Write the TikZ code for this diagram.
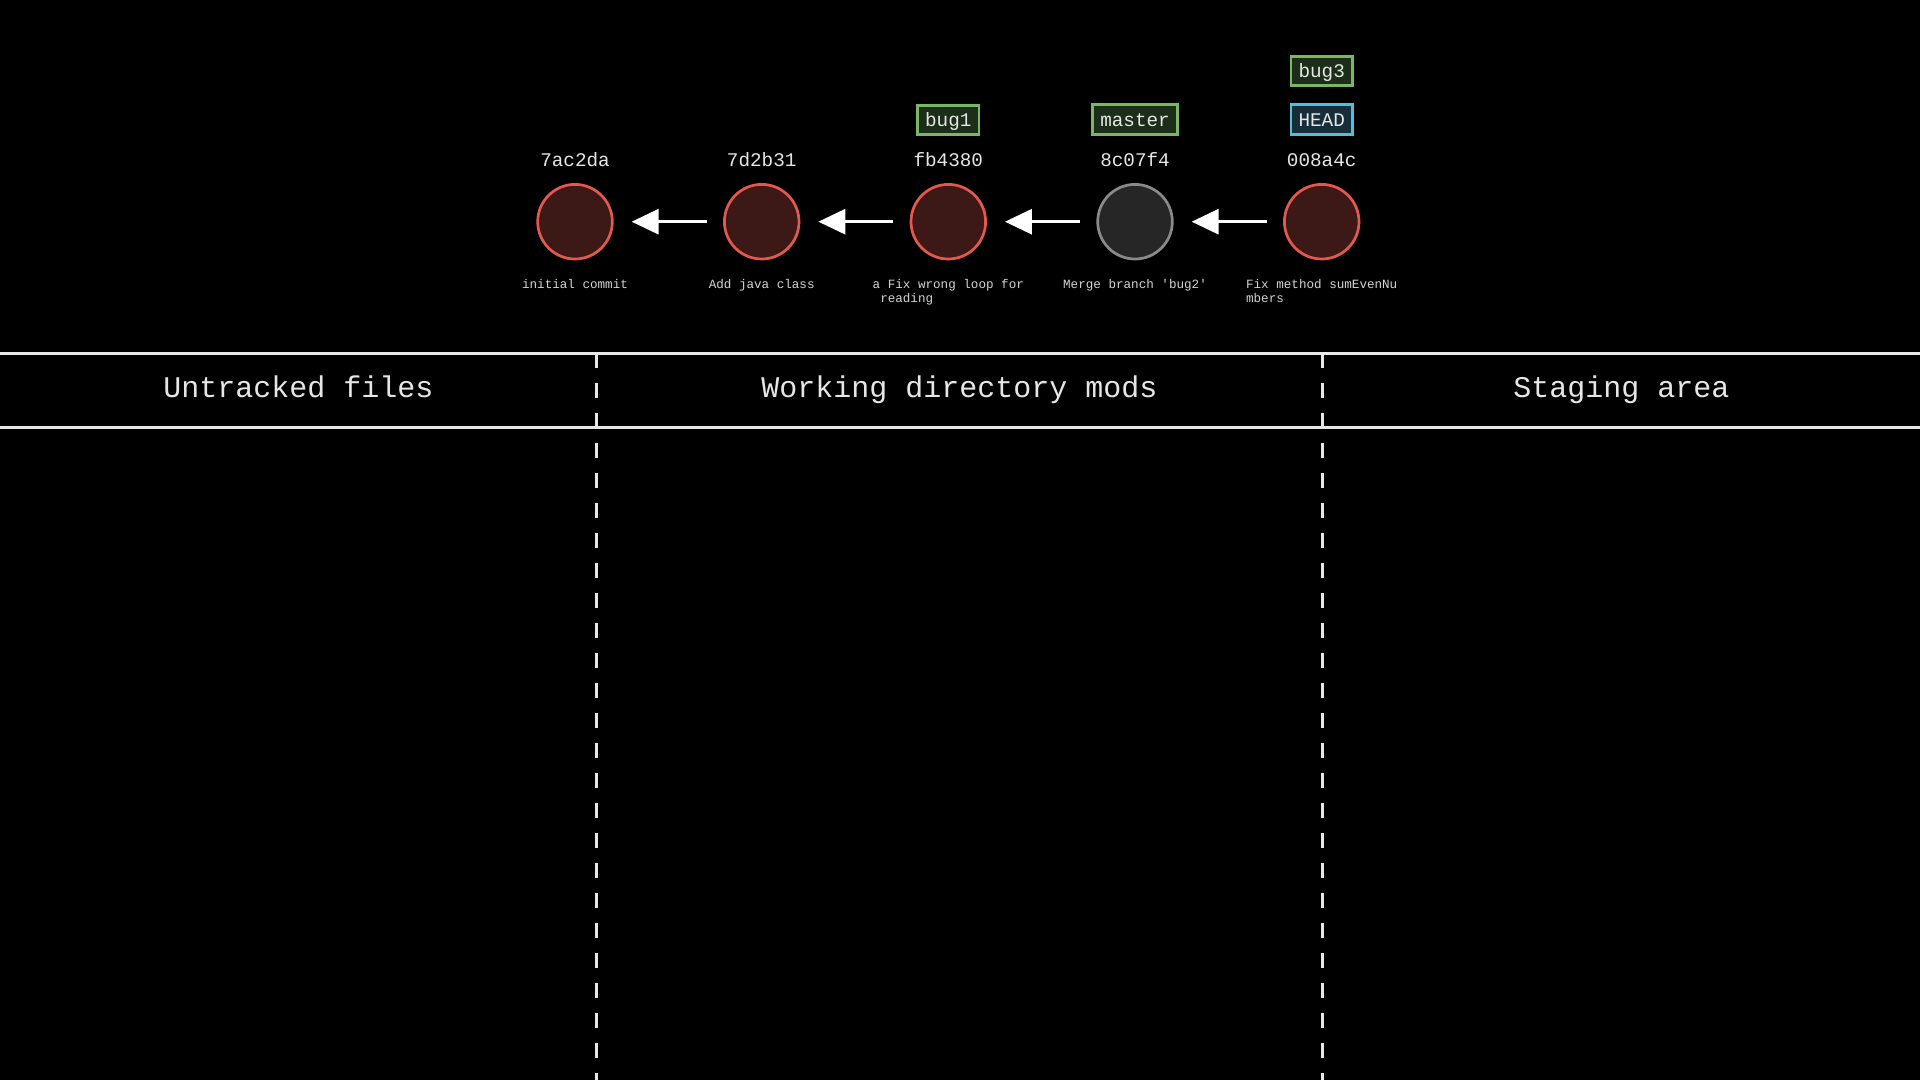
\documentclass[tikz,border=0pt]{standalone}
\usepackage{fontspec}
\setmonofont{Liberation Mono}
\usetikzlibrary{arrows.meta}

\definecolor{ink}{HTML}{E6E6E6}
\definecolor{msgink}{HTML}{D4D4D4}
\definecolor{rulegrey}{HTML}{E8E8E8}
\definecolor{commitred}{RGB}{228,88,78}
\definecolor{commitredfill}{RGB}{60,24,22}
\definecolor{mergegrey}{RGB}{138,138,138}
\definecolor{mergefill}{RGB}{38,38,38}
\definecolor{branchgreen}{RGB}{122,182,100}
\definecolor{branchfill}{RGB}{28,46,26}
\definecolor{headblue}{RGB}{88,188,218}
\definecolor{headfill}{RGB}{22,46,58}

\begin{document}
\begin{tikzpicture}[x=1pt,y=-1pt,
  commit/.style={circle, draw=commitred, fill=commitredfill, line width=2.7pt,
    minimum size=74.6pt, inner sep=0pt},
  merge/.style={commit, draw=mergegrey, fill=mergefill},
  hash/.style={anchor=base, text=ink, inner sep=0pt,
    font=\ttfamily\fontsize{19.3}{22}\selectfont},
  msg/.style={anchor=north, align=left, text=msgink, inner sep=0pt,
    font=\ttfamily\fontsize{12.6}{14}\selectfont},
  branch/.style={draw=branchgreen, fill=branchfill, line width=2.8pt, text=ink,
    font=\ttfamily\fontsize{19.3}{22}\selectfont, minimum height=29.5pt,
    inner xsep=7.5pt, inner ysep=0pt, text height=17pt, text depth=4pt},
  headref/.style={branch, draw=headblue, fill=headfill},
  parent/.style={draw=white, line width=3pt,
    -{Triangle[length=27pt,width=25pt]}, shorten >=18pt, shorten <=16.5pt},
  section/.style={anchor=base, text=ink, inner sep=0pt,
    font=\ttfamily\fontsize{30}{36}\selectfont},
  hrule/.style={draw=rulegrey, line width=3pt},
  lane/.style={draw=rulegrey, line width=2.7pt, dash pattern=on 15pt off 15pt}
]
% canvas
\fill[black] (0,0) rectangle (1920,1080);
\useasboundingbox (0,0) rectangle (1920,1080);

% commits, oldest on the left
\node[commit] (c1) at (575,221.7) {};
\node[commit] (c2) at (761.7,221.7) {};
\node[commit] (c3) at (948.3,221.7) {};
\node[merge]  (c4) at (1135,221.7) {};
\node[commit] (c5) at (1321.7,221.7) {};

% parent links
\draw[parent] (c2) -- (c1);
\draw[parent] (c3) -- (c2);
\draw[parent] (c4) -- (c3);
\draw[parent] (c5) -- (c4);

% abbreviated hashes
\node[hash] (h1) at (575,166.5) {7ac2da};
\node[hash] (h2) at (761.7,166.5) {7d2b31};
\node[hash] (h3) at (948.3,166.5) {fb4380};
\node[hash] (h4) at (1135,166.5) {8c07f4};
\node[hash] (h5) at (1321.7,166.5) {008a4c};

% commit messages
\node[msg] (m1) at (575,278.2) {\strut initial commit};
\node[msg] (m2) at (761.7,278.2) {\strut Add java class};
\node[msg] (m3) at (948.3,278.2) {\strut a Fix wrong loop for\\\strut\phantom{a}reading};
\node[msg] (m4) at (1135,278.2) {\strut Merge branch 'bug2'};
\node[msg] (m5) at (1321.7,278.2) {\strut Fix method sumEvenNu\\\strut mbers};

% refs
\node[branch]  (bug1)   at (948.3,120) {bug1};
\node[branch]  (master) at (1135,119.5) {master};
\node[headref] (head)   at (1321.7,119.5) {HEAD};
\node[branch]  (bug3)   at (1321.7,71) {bug3};

% area header band
\draw[hrule] (0,353.5) -- (1920,353.5);
\draw[hrule] (0,427.5) -- (1920,427.5);
\draw[lane] (596.5,353) -- (596.5,1080);
\draw[lane] (1322.5,353) -- (1322.5,1080);

\node[section] (untracked) at (298.3,397.3) {Untracked files};
\node[section] (workdir)   at (959.5,397.3) {Working directory mods};
\node[section] (staging)   at (1621.3,397.3) {Staging area};
\end{tikzpicture}
\end{document}
